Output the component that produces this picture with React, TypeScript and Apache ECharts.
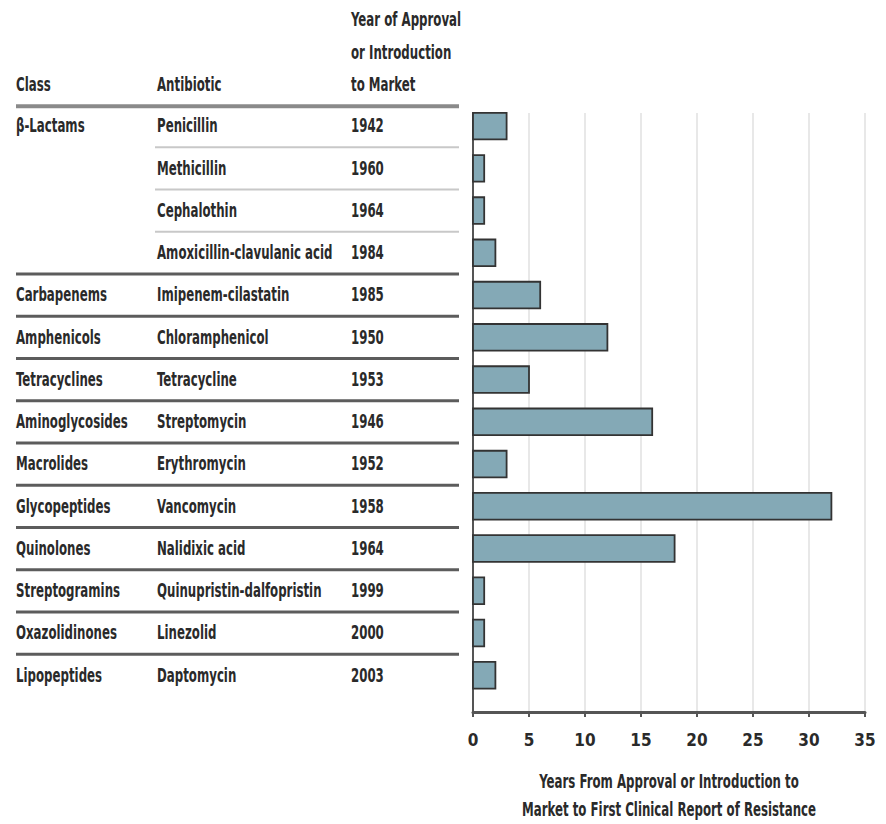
import React, { useEffect, useRef } from "react";
import * as echarts from "echarts";

const classes = [
  "β-Lactams", "", "", "", "Carbapenems", "Amphenicols", "Tetracyclines",
  "Aminoglycosides", "Macrolides", "Glycopeptides", "Quinolones",
  "Streptogramins", "Oxazolidinones", "Lipopeptides",
];
const antibiotics = [
  "Penicillin", "Methicillin", "Cephalothin", "Amoxicillin-clavulanic acid",
  "Imipenem-cilastatin", "Chloramphenicol", "Tetracycline", "Streptomycin",
  "Erythromycin", "Vancomycin", "Nalidixic acid", "Quinupristin-dalfopristin",
  "Linezolid", "Daptomycin",
];
const years = [
  "1942", "1960", "1964", "1984", "1985", "1950", "1953", "1946", "1952",
  "1958", "1964", "1999", "2000", "2003",
];
const yearsToResistance = [3, 1, 1, 2, 6, 12, 5, 16, 3, 32, 18, 1, 1, 2];
const xTicks = [0, 5, 10, 15, 20, 25, 30, 35];
const headerYear = ["Year of Approval", "or Introduction", "to Market"];
const axisTitleLines = [
  "Years From Approval or Introduction to",
  "Market to First Clinical Report of Resistance",
];

const FONT = "'DejaVu Sans Condensed', 'Liberation Sans Narrow', sans-serif";
const TEXT = "#2a2a2a";
const SX = 0.69;

export default function App() {
  const ref = useRef<HTMLDivElement>(null);
  useEffect(() => {
    if (!ref.current) return;
    const chart = echarts.init(ref.current, undefined, { renderer: "svg" });

    const gridTop = 113;
    const gridBottom = 112;
    const gridLeft = 473;
    const gridRight = 21;
    const W = 886;
    const H = 824;
    const gridH = H - gridTop - gridBottom;
    const yMin = -0.31;
    const yMax = 13.87;
    const rowY = (i: number) => gridTop + ((i - yMin) / (yMax - yMin)) * gridH;

    const colX = [16, 157, 351];
    const tableRight = 459;

    const txt = (text: string, x: number, y: number, align: string = "left") => ({
      type: "text",
      x,
      y,
      scaleX: SX,
      style: { text, font: `bold 19px ${FONT}`, fill: TEXT, verticalAlign: "middle", align },
    });

    const graphics: any[] = [];
    // header
    graphics.push(txt("Class", colX[0], rowY(-1.0) + 1));
    graphics.push(txt("Antibiotic", colX[1], rowY(-1.0) + 1));
    headerYear.forEach((t, k) => {
      graphics.push(txt(t, colX[2], rowY(-1.0) + 1 - (2 - k) * 32.5));
    });
    graphics.push({ type: "line", shape: { x1: colX[0], y1: rowY(-0.47), x2: tableRight, y2: rowY(-0.47) }, style: { stroke: "#8a8a8a", lineWidth: 4 } });

    antibiotics.forEach((name, i) => {
      const y = rowY(i);
      if (classes[i]) graphics.push(txt(classes[i], colX[0], y));
      graphics.push(txt(name, colX[1], y));
      graphics.push(txt(years[i], colX[2], y));
      if (i < antibiotics.length - 1) {
        const ly = rowY(i + 0.5);
        const newGroup = classes[i + 1] !== "";
        graphics.push({
          type: "line",
          shape: { x1: newGroup ? colX[0] : colX[1] - 2, y1: ly, x2: tableRight, y2: ly },
          style: newGroup ? { stroke: "#5c5c5c", lineWidth: 3 } : { stroke: "#c8c8c8", lineWidth: 2 },
        });
      }
    });

    // axis title
    const titleX = gridLeft + (W - gridLeft - gridRight) / 2;
    axisTitleLines.forEach((t, k) => {
      graphics.push(txt(t, titleX, 782 + k * 28, "center"));
    });

    chart.setOption({
      animation: false,
      backgroundColor: "#ffffff",
      grid: { left: gridLeft, right: gridRight, top: gridTop, bottom: gridBottom, containLabel: false },
      xAxis: {
        type: "value",
        min: 0,
        max: 35,
        interval: 5,
        axisLine: { show: true, onZero: false, lineStyle: { color: "#555555", width: 3 } },
        axisTick: { show: true, length: 5, lineStyle: { color: "#555555", width: 2 } },
        axisLabel: {
          margin: 19,
          fontFamily: FONT,
          fontWeight: "bold",
          fontSize: 17,
          color: TEXT,
          formatter: (v: number) => (xTicks.includes(v) ? String(v) : ""),
        },
        splitLine: { show: true, lineStyle: { color: "#e0e0e0", width: 1.5 } },
      },
      yAxis: {
        type: "value",
        inverse: true,
        min: yMin,
        max: yMax,
        axisLine: { show: true, onZero: false, lineStyle: { color: "#555555", width: 2 } },
        axisTick: { show: false },
        axisLabel: { show: false },
        splitLine: { show: false },
      },
      series: [
        {
          type: "custom",
          name: "Years to resistance",
          encode: { x: 1, y: 0 },
          data: yearsToResistance.map((v, i) => [i, v]),
          renderItem: (_params: any, api: any) => {
            const idx = api.value(0);
            const v = api.value(1);
            const s = api.coord([0, idx]);
            const e = api.coord([v, idx]);
            const h = api.size([0, 0.63])[1];
            return {
              type: "rect",
              shape: { x: s[0], y: s[1] - h / 2, width: e[0] - s[0], height: h },
              style: { fill: "#84a9b6", stroke: "#333333", lineWidth: 1.8 },
            };
          },
        },
      ],
      graphic: graphics,
    });

    return () => chart.dispose();
  }, []);

  return (
    <div
      ref={ref}
      style={{ position: "absolute", left: 0, top: 0, width: 886, height: 824, background: "#fff" }}
    />
  );
}
